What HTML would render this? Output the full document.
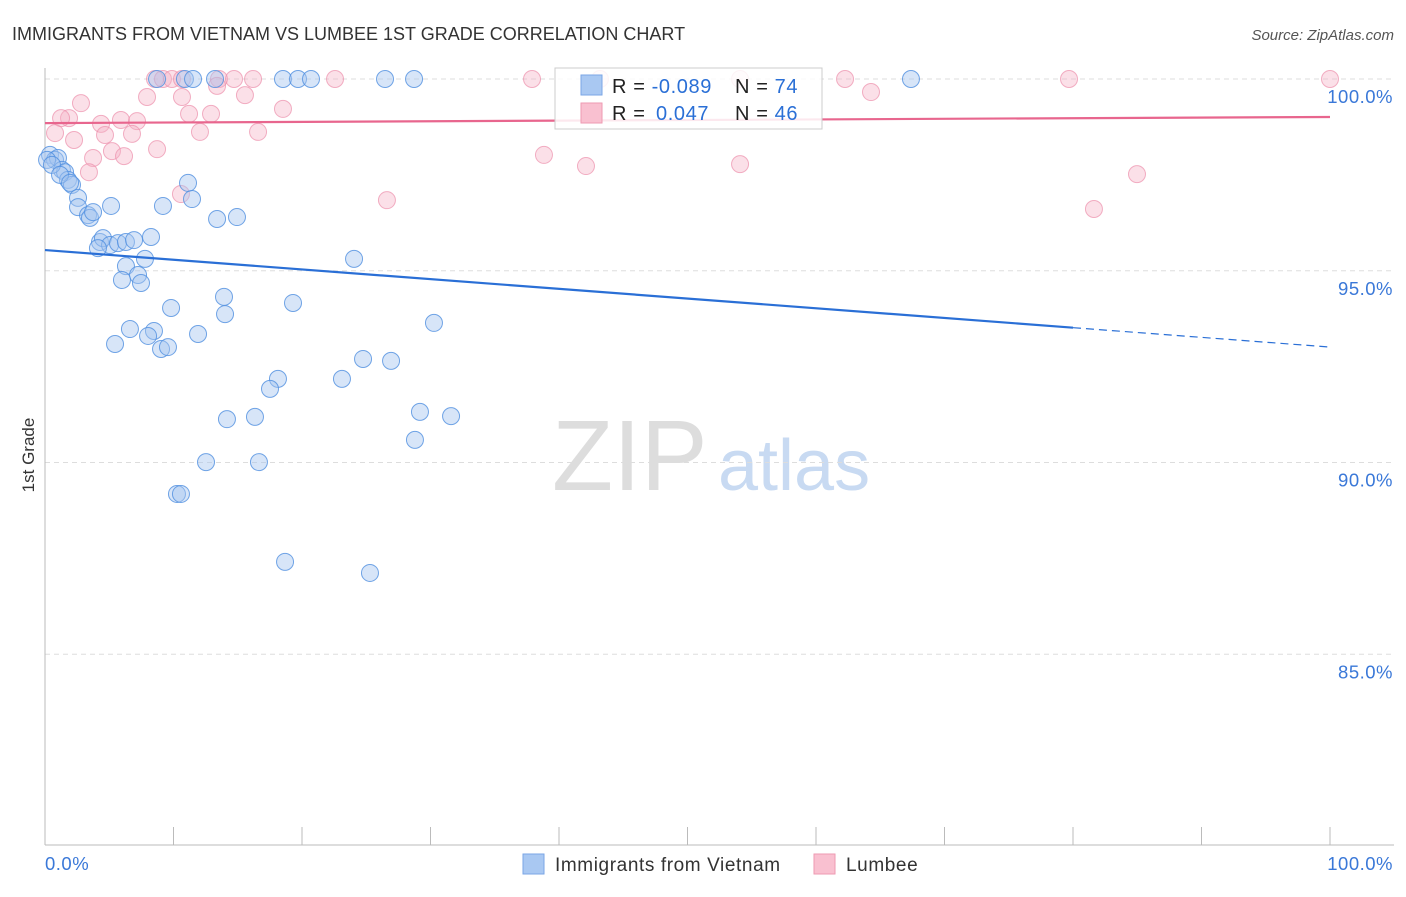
<!DOCTYPE html>
<html><head><meta charset="utf-8"><style>
body{margin:0;background:#fff;font-family:"Liberation Sans",sans-serif}
svg text{font-family:"Liberation Sans",sans-serif}
</style></head><body>
<svg id="c" width="1406" height="892">
<text x="12" y="40" font-size="18" fill="#333">IMMIGRANTS FROM VIETNAM VS LUMBEE 1ST GRADE CORRELATION CHART</text>
<text x="1394" y="40" font-size="15" fill="#555" text-anchor="end" font-style="italic">Source: ZipAtlas.com</text>
<text x="34" y="455" font-size="17" fill="#333" transform="rotate(-90 34 455)" text-anchor="middle">1st Grade</text>
<text x="552" y="490" font-size="100" fill="#ddd" font-family="Liberation Serif">ZIP</text>
<text x="718" y="490" font-size="72" fill="#c8daf2">atlas</text>
<g id="grid"></g><g id="axes"></g><g id="pts"></g><g id="trend"></g>
<g>
<rect x="555" y="68" width="267" height="61" fill="#fff" fill-opacity="0.85" stroke="#ccc"/>
<rect x="581" y="75" width="21" height="20" fill="#a9c8f2" stroke="#7aa6e6"/>
<rect x="581" y="103" width="21" height="20" fill="#f9c0d0" stroke="#ee9ab2"/>
<text x="612" y="93" font-size="20" fill="#222" letter-spacing="0.6">R = <tspan fill="#2a6fd6">-0.089</tspan></text>
<text x="735" y="93" font-size="20" fill="#222" letter-spacing="0.6">N = <tspan fill="#2a6fd6">74</tspan></text>
<text x="612" y="120" font-size="20" fill="#222" letter-spacing="0.6">R = <tspan fill="#2a6fd6" x="656">0.047</tspan></text>
<text x="735" y="120" font-size="20" fill="#222" letter-spacing="0.6">N = <tspan fill="#2a6fd6">46</tspan></text>
</g>
<g>
<rect x="523" y="854" width="21" height="20" fill="#a9c8f2" stroke="#7aa6e6"/>
<text x="555" y="871" font-size="19" fill="#333" letter-spacing="0.6">Immigrants from Vietnam</text>
<rect x="814" y="854" width="21" height="20" fill="#f9c0d0" stroke="#ee9ab2"/>
<text x="846" y="871" font-size="19" fill="#333" letter-spacing="0.6">Lumbee</text>
</g>
</svg>
<script>
const blueX=[8.72,10.89,11.52,13.23,18.52,19.69,20.70,26.46,28.72,67.39,0.39,0.78,1.01,1.32,1.56,1.79,2.10,2.57,2.57,3.35,3.50,3.74,5.14,9.18,11.13,11.44,13.39,14.94,4.28,4.51,5.06,5.68,6.30,6.93,8.25,4.12,7.78,24.05,6.30,7.24,5.99,7.47,9.81,13.93,14.01,19.30,6.61,8.48,8.02,5.45,9.03,9.57,11.91,30.27,24.75,26.93,18.13,17.51,23.11,14.16,16.34,29.18,31.60,28.79,12.53,16.65,10.27,10.58,18.68,25.29,0.16,0.54,1.17,1.95];
const blueY=[100,100,100,100,100,100,100,100,100,100,98.02,97.89,97.94,97.63,97.57,97.37,97.24,96.90,96.66,96.45,96.38,96.53,96.69,96.69,97.29,96.87,96.35,96.40,95.75,95.85,95.67,95.72,95.75,95.80,95.88,95.59,95.31,95.31,95.12,94.89,94.76,94.68,94.03,94.32,93.87,94.16,93.48,93.43,93.30,93.09,92.96,93.01,93.35,93.64,92.70,92.65,92.18,91.92,92.18,91.13,91.19,91.32,91.21,90.59,90.01,90.01,89.18,89.18,87.41,87.12,97.89,97.76,97.50,97.29];
const pinkX=[8.56,9.18,9.88,10.66,13.54,14.71,16.19,22.57,37.90,43.19,54.09,62.26,79.69,100,13.39,64.28,7.94,10.66,15.56,2.80,18.52,11.21,12.92,1.87,1.25,4.36,5.91,7.16,0.78,4.67,12.06,6.77,16.58,2.26,8.72,5.21,3.74,6.15,38.83,42.10,54.09,84.98,3.42,10.58,26.61,81.63];
const pinkY=[100,100,100,100,100,100,100,100,100,100,100,100,100,100,99.82,99.66,99.53,99.53,99.58,99.37,99.22,99.09,99.09,98.98,98.98,98.83,98.93,98.90,98.59,98.54,98.62,98.57,98.62,98.41,98.17,98.12,97.94,97.99,98.02,97.73,97.78,97.52,97.57,97.00,96.84,96.61];
const blueTrend=[95.54,93.01];
const pinkTrend=[98.85,99.01];
const yTicks=[100,95,90,85];
const yTickLabels=["100.0%","95.0%","90.0%","85.0%"];
const xTicks=[0,10,20,30,40,50,60,70,80,90,100];
const NS="http://www.w3.org/2000/svg";
const sx=v=>45+v*12.85, sy=v=>79+(100-v)*38.35;
function mk(tag,attrs,parent){const e=document.createElementNS(NS,tag);for(const k in attrs)e.setAttribute(k,attrs[k]);document.getElementById(parent).appendChild(e);return e;}
yTicks.forEach((t,i)=>{
 const l=mk('line',{x1:45,x2:1394,y1:sy(t),y2:sy(t),stroke:'#ddd','stroke-dasharray':'5,4'},'grid');
 
 
 const tx=mk('text',{x:1393,y:sy(t)+24,'font-size':18.5,fill:'#3a78d8','text-anchor':'end','letter-spacing':0.5},'grid');
 tx.textContent=yTickLabels[i];
 
 
});
let a=mk('line',{x1:45,x2:45,y1:68,y2:845,stroke:'#bbb'},'axes');


a=mk('line',{x1:45,x2:1394,y1:845,y2:845,stroke:'#bbb'},'axes');


xTicks.forEach(t=>{const l=mk('line',{x1:sx(t),x2:sx(t),y1:827,y2:845,stroke:'#bbb'},'axes');
 
 });
let t0=mk('text',{x:45,y:870,'font-size':18.5,fill:'#3a78d8','letter-spacing':0.5},'axes');t0.textContent='0.0%';


let t1=mk('text',{x:1393,y:870,'font-size':18.5,fill:'#3a78d8','text-anchor':'end','letter-spacing':0.5},'axes');t1.textContent='100.0%';


pinkX.forEach((x,i)=>{const c=mk('circle',{cx:sx(x),cy:sy(pinkY[i]),r:8.5,fill:'#f6b2c6','fill-opacity':0.4,stroke:'#ec8fab','stroke-opacity':0.7},'pts');
 
 });
blueX.forEach((x,i)=>{const c=mk('circle',{cx:sx(x),cy:sy(blueY[i]),r:8.5,fill:'#a6c6f0','fill-opacity':0.45,stroke:'#4f8ee0','stroke-opacity':0.8},'pts');
 
 });
const bAt=x=>blueTrend[0]+(blueTrend[1]-blueTrend[0])*x/100;
let l=mk('line',{x1:sx(0),y1:sy(bAt(0)),x2:sx(80),y2:sy(bAt(80)),stroke:'#2a6fd6','stroke-width':2.2},'trend');


l=mk('line',{x1:sx(80),y1:sy(bAt(80)),x2:sx(100),y2:sy(bAt(100)),stroke:'#2a6fd6','stroke-width':1.2,'stroke-dasharray':'8,5'},'trend');


l=mk('line',{x1:sx(0),y1:sy(pinkTrend[0]),x2:sx(100),y2:sy(pinkTrend[1]),stroke:'#e8668e','stroke-width':2.2},'trend');


</script>
</body></html>
